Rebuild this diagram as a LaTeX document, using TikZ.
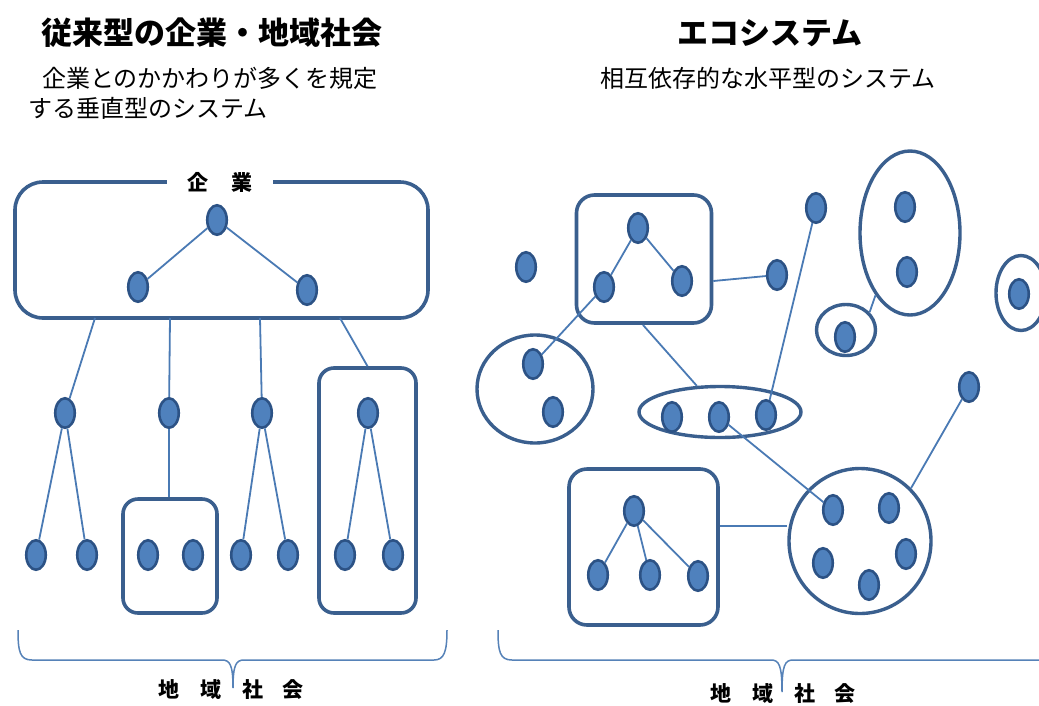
\documentclass[tikz,border=0pt]{standalone}
\usepackage{fontspec}
\newfontfamily\jp{Noto Sans CJK JP}
\usetikzlibrary{shapes.geometric}
\definecolor{nodefill}{RGB}{79,129,189}
\definecolor{nodeborder}{RGB}{44,82,133}
\definecolor{boxborder}{RGB}{58,95,142}
\definecolor{linkcol}{RGB}{74,122,180}
\definecolor{bracecol}{RGB}{86,130,184}
\tikzset{
  dot/.style={ellipse, draw=nodeborder, fill=nodefill, line width=2.6pt, minimum width=19.5pt, minimum height=29.5pt, inner sep=0pt},
  box/.style={draw=boxborder, line width=3.6pt, inner sep=0pt},
  ring/.style={ellipse, draw=boxborder, line width=3.4pt, inner sep=0pt},
  link/.style={draw=linkcol, line width=1.8pt},
  bracepath/.style={draw=bracecol, line width=1.5pt},
  txt/.style={inner sep=0pt, font=\jp},
  smalllabel/.style={inner sep=0pt, font=\jp\bfseries\fontsize{21pt}{21pt}\selectfont},
}
\begin{document}
\begin{tikzpicture}[x=1pt,y=-1pt]
\fill[white] (0,0) rectangle (1039,705);
\useasboundingbox (0,0) rectangle (1039,705);

% ---------- titles ----------
\node[txt, font=\jp\bfseries\fontsize{31pt}{31pt}\selectfont] (ltitle) at (212,33) {従来型の企業・地域社会};
\node[txt, font=\jp\fontsize{24pt}{24pt}\selectfont] (lsub1) at (210,78) {企業とのかかわりが多くを規定};
\node[txt, font=\jp\fontsize{24pt}{24pt}\selectfont] (lsub2) at (148,108) {する垂直型のシステム};
\node[txt, font=\jp\bfseries\fontsize{31pt}{31pt}\selectfont] (rtitle) at (770,33) {エコシステム};
\node[txt, font=\jp\fontsize{24pt}{24pt}\selectfont] (rsub) at (768,78) {相互依存的な水平型のシステム};

% ---------- left: containers ----------
\node[box, rounded corners=28pt, minimum width=413pt, minimum height=136pt] (kbox) at (221.5,250) {};
\node[smalllabel, fill=white, minimum width=106pt, minimum height=14pt] (klabel) at (220,182) {企\hspace{24pt}業};
\node[box, rounded corners=15pt, minimum width=94pt, minimum height=114pt] (sbox) at (170,556) {};
\node[box, rounded corners=15pt, minimum width=97pt, minimum height=245pt] (tbox) at (367.5,490.5) {};

% ---------- left: dots ----------
\node[dot] (kt) at (217,220) {};
\node[dot] (kl) at (138,287) {};
\node[dot] (kr) at (307,290) {};
\node[dot] (a) at (65,413) {};
\node[dot] (b) at (169,413) {};
\node[dot] (c) at (262,413) {};
\node[dot] (d) at (368,413) {};
\node[dot] (a1) at (36,555) {};
\node[dot] (a2) at (87,555) {};
\node[dot] (s1) at (148,555) {};
\node[dot] (s2) at (193,555) {};
\node[dot] (c1) at (241,555) {};
\node[dot] (c2) at (288,555) {};
\node[dot] (d1) at (345,555) {};
\node[dot] (d2) at (393,555) {};

\coordinate (kb1) at (95,318);
\coordinate (kb2) at (170,318);
\coordinate (kb3) at (260,318);
\coordinate (kb4) at (340,318);

% ---------- left: links ----------
\draw[link] (kt) -- (kl);
\draw[link] (kt) -- (kr);
\draw[link] (kb1) -- (a);
\draw[link] (kb2) -- (b);
\draw[link] (kb3) -- (c);
\draw[link] (kb4) -- (tbox.north);
\draw[link] (b) -- (b |- sbox.north);
\draw[link] (a) -- (a1);
\draw[link] (a) -- (a2);
\draw[link] (c) -- (c1);
\draw[link] (c) -- (c2);
\draw[link] (d) -- (d1);
\draw[link] (d) -- (d2);

% ---------- right: containers ----------
\node[box, rounded corners=18pt, minimum width=135pt, minimum height=128pt] (rbox) at (644,259) {};
\node[box, rounded corners=18pt, minimum width=149pt, minimum height=156pt] (bbox) at (643.5,547) {};
\node[ring, minimum width=116pt, minimum height=108pt] (lcirc) at (535,389) {};
\node[ring, minimum width=162pt, minimum height=51pt] (hell) at (720,412) {};
\node[ring, minimum width=100pt, minimum height=164pt] (tall) at (910,233) {};
\node[ring, minimum width=59pt, minimum height=51pt] (sm) at (846,330) {};
\node[ring, minimum width=50pt, minimum height=75pt] (rell) at (1021,293) {};
\node[ring, minimum width=142pt, minimum height=145pt] (bigc) at (860,541) {};

% ---------- right: dots ----------
\node[dot] (iso) at (526,267) {};
\node[dot] (rt) at (638,228) {};
\node[dot] (rl) at (604,287) {};
\node[dot] (rr) at (682,281) {};
\node[dot] (m1) at (777,275) {};
\node[dot] (m2) at (816,208) {};
\node[dot] (t1) at (905,207) {};
\node[dot] (t2) at (907,272) {};
\node[dot] (smn) at (845,337) {};
\node[dot] (rn) at (1019,294) {};
\node[dot] (cl1) at (533,364) {};
\node[dot] (cl2) at (553,412) {};
\node[dot] (e1) at (672,417) {};
\node[dot] (e2) at (719,417) {};
\node[dot] (e3) at (766,415) {};
\node[dot] (m3) at (969,387) {};
\node[dot] (g1) at (833,510) {};
\node[dot] (g2) at (889,508) {};
\node[dot] (g3) at (823,563) {};
\node[dot] (g4) at (906,554) {};
\node[dot] (g5) at (869,585) {};
\node[dot] (bt) at (634,511) {};
\node[dot] (bb1) at (598,575) {};
\node[dot] (bb2) at (650,575) {};
\node[dot] (bb3) at (698,576) {};

\coordinate (rb1) at (643,325);
\coordinate (bx1) at (720,526);

% ---------- right: links ----------
\draw[link] (rt) -- (rl);
\draw[link] (rt) -- (rr);
\draw[link] (rr -| rbox.east) -- (m1);
\draw[link] (rl) -- (cl1);
\draw[link] (rb1) -- (hell);
\draw[link] (m2) -- (e3);
\draw[link] (sm.37) -- (tall.241);
\draw[link] (e2) -- (g1);
\draw[link] (m3) -- (bigc.46);
\draw[link] (bx1) -- (bigc.west |- bx1);
\draw[link] (bt) -- (bb1);
\draw[link] (bt) -- (bb2);
\draw[link] (bt) -- (bb3);

% ---------- braces ----------
\draw[bracepath] (18,630) .. controls (18,652) and (20,660) .. (32,660) -- (222,660)
  .. controls (230,660) and (233,665) .. (233,688)
  .. controls (233,665) and (236,660) .. (244,660) -- (434,660)
  .. controls (444,660) and (447,652) .. (447,630);
\draw[bracepath] (498,630) .. controls (498,652) and (500,660) .. (512,660) -- (771,660)
  .. controls (779,660) and (782,665) .. (782,692)
  .. controls (782,665) and (785,660) .. (793,660) -- (1045,660);

\node[smalllabel] (lcomm) at (231,690) {地\hspace{21pt}域\hspace{21pt}社\hspace{19pt}会};
\node[smalllabel] (rcomm) at (783,694) {地\hspace{21pt}域\hspace{21pt}社\hspace{19pt}会};
\end{tikzpicture}
\end{document}
